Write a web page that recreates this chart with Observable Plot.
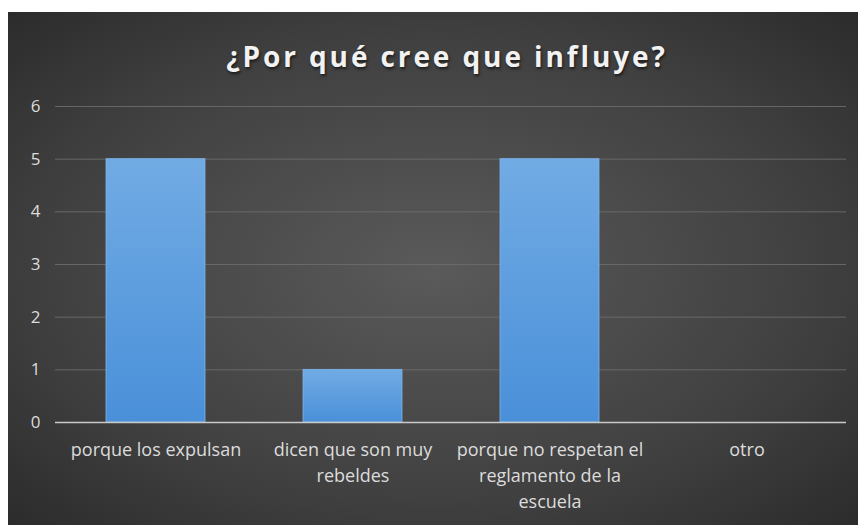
<!DOCTYPE html>
<html>
<head>
<meta charset="utf-8">
<script src="https://cdn.jsdelivr.net/npm/d3@7"></script>
<script src="https://cdn.jsdelivr.net/npm/@observablehq/plot@0.6"></script>
<style>
  html, body { margin: 0; padding: 0; background: #ffffff; width: 858px; height: 525px; overflow: hidden; }
  #chart {
    position: absolute; left: 8px; top: 12px; width: 850px; height: 513px;
    background: radial-gradient(ellipse 75% 75% at 50% 50%, #5a5a5a 0%, #404040 60%, #282828 100%);
    font-family: "Open Sans", sans-serif;
  }
  #title {
    position: absolute; left: 14px; width: 850px; top: 25px; text-align: center;
    font-size: 28px; font-weight: bold; letter-spacing: 2.9px; color: #f2f2f2;
    text-shadow: 1px 2px 3px rgba(0,0,0,0.6);
  }
  #plot { position: absolute; left: 0; top: 73px; }
</style>
</head>
<body>
<div id="chart">
  <div id="title">¿Por qué cree que influye?</div>
  <div id="plot"></div>
</div>
<script>
const categories = ["porque los expulsan", "dicen que son muy rebeldes", "porque no respetan el reglamento de la escuela", "otro"];
const tickLabels = ["porque los expulsan", "dicen que son muy\nrebeldes", "porque no respetan el\nreglamento de la\nescuela", "otro"];
const values = [5, 1, 5, 0];
const yTicks = [0, 1, 2, 3, 4, 5, 6];

const data = categories.map((c, i) => ({category: c, value: values[i], label: tickLabels[i]}));

const chart = Plot.plot({
  width: 850,
  height: 440,
  marginTop: 21,
  marginBottom: 103,
  marginLeft: 47,
  marginRight: 12,
  style: {background: "transparent", fontFamily: "Open Sans, sans-serif", color: "#d9d9d9", overflow: "visible"},
  x: {domain: categories, paddingInner: 0.5, paddingOuter: 0.25, label: null, axis: null},
  y: {domain: [0, 6], label: null, axis: null},
  marks: [
    Plot.gridY(yTicks.filter(d => d > 0), {stroke: "#6b6b6b", strokeOpacity: 0.9, strokeWidth: 1}),
    Plot.barY(data, {x: "category", y: "value", fill: "url(#barGrad)", stroke: "#7db3e8", strokeWidth: 0.8}),
    Plot.ruleY([0], {stroke: "#c9c9c9", strokeWidth: 1.6}),
    Plot.axisY({ticks: yTicks, tickFormat: "d", tickSize: 0, tickPadding: 15, fontSize: 17, fill: "#dcdcdc", label: null}),
    Plot.text(data, {x: "category", y: () => 0, text: "label", dy: 15, lineAnchor: "top", lineHeight: 1.44, fontSize: 18, fill: "#dcdcdc"})
  ]
});

const defs = d3.select(chart).insert("defs", ":first-child");
const g = defs.append("linearGradient").attr("id", "barGrad").attr("x1", 0).attr("y1", 0).attr("x2", 0).attr("y2", 1);
g.append("stop").attr("offset", "0%").attr("stop-color", "#71abe4");
g.append("stop").attr("offset", "100%").attr("stop-color", "#4a90d9");

document.getElementById("plot").appendChild(chart);
</script>
</body>
</html>
